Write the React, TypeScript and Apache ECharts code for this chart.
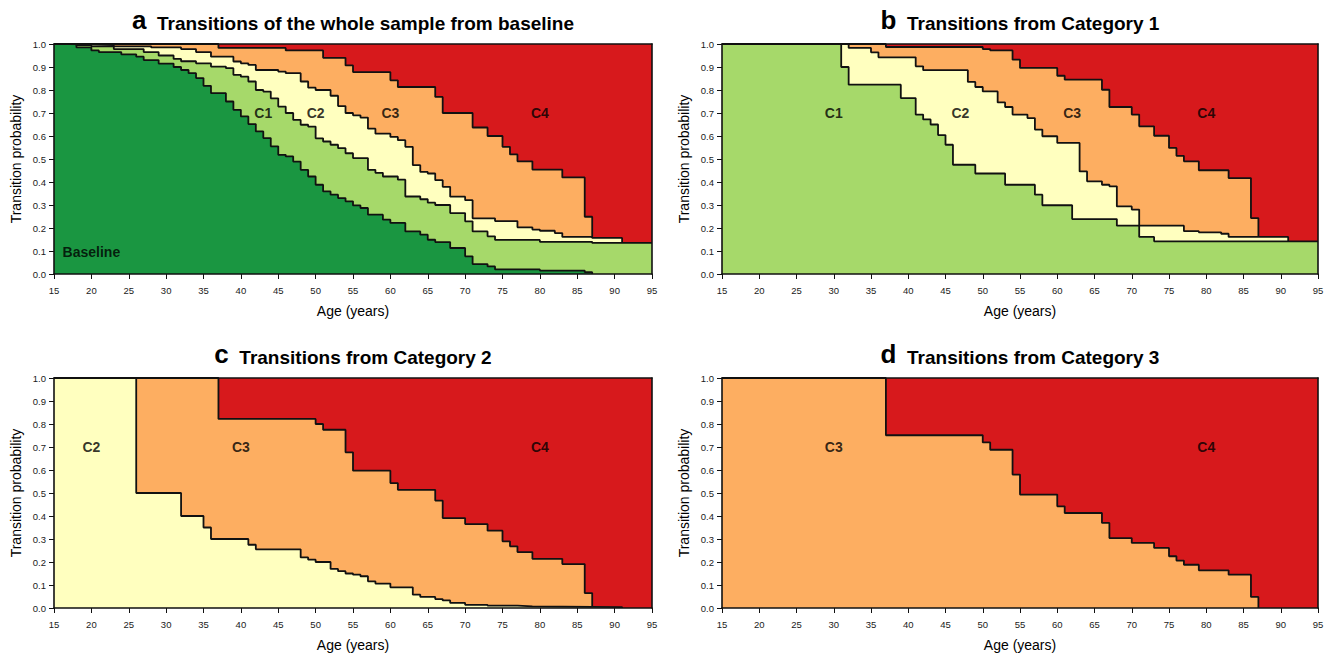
import React, { useEffect, useRef } from "react";
import * as echarts from "echarts";

type Pt = [number, number];

// Age ticks
const AGE_MIN = 15;
const AGE_MAX = 95;

// Panel a: cumulative upper boundaries (value holds from the given age)
const aBaseline: Pt[] = [[15,1],[18,0.985],[20,0.972],[21,0.965],[24,0.955],[26,0.945],[27,0.93],[29,0.915],[31,0.9],[32,0.887],[33,0.873],[34,0.852],[35,0.818],[36,0.786],[38,0.75],[39,0.714],[40,0.685],[41,0.652],[42,0.62],[43,0.591],[44,0.555],[45,0.518],[46,0.511],[47,0.489],[48,0.453],[49,0.424],[50,0.388],[51,0.359],[52,0.345],[53,0.33],[54,0.316],[55,0.298],[56,0.287],[57,0.258],[59,0.236],[60,0.222],[62,0.185],[64,0.171],[65,0.149],[66,0.139],[68,0.113],[70,0.077],[71,0.043],[73,0.033],[74,0.02],[80,0.015],[86,0.008],[87,0]];
const aC1: Pt[] = [[15,1],[18,0.995],[20,0.99],[23,0.978],[27,0.965],[29,0.95],[31,0.935],[32,0.925],[34,0.916],[36,0.902],[38,0.895],[39,0.866],[40,0.858],[41,0.837],[42,0.8],[43,0.793],[44,0.764],[45,0.728],[46,0.7],[47,0.67],[48,0.649],[49,0.641],[50,0.59],[51,0.576],[52,0.562],[53,0.547],[54,0.525],[55,0.504],[57,0.453],[58,0.44],[59,0.424],[61,0.41],[62,0.337],[64,0.325],[65,0.31],[66,0.3],[68,0.265],[70,0.229],[71,0.185],[73,0.164],[74,0.148],[80,0.14],[87,0.135],[95,0.135]];
const aC2: Pt[] = [[15,1],[17,0.998],[20,0.995],[23,0.99],[28,0.985],[32,0.978],[34,0.965],[36,0.945],[39,0.924],[40,0.916],[41,0.909],[42,0.887],[45,0.88],[46,0.873],[48,0.837],[49,0.81],[50,0.8],[52,0.775],[53,0.73],[54,0.7],[55,0.69],[56,0.68],[57,0.632],[58,0.61],[60,0.596],[61,0.582],[62,0.553],[63,0.473],[64,0.444],[65,0.437],[66,0.408],[67,0.379],[68,0.336],[70,0.321],[71,0.242],[74,0.23],[77,0.203],[79,0.193],[80,0.188],[82,0.178],[83,0.161],[87,0.157],[91,0.135]];
const aC3: Pt[] = [[15,1],[37,0.983],[46,0.972],[51,0.94],[54,0.907],[55,0.878],[60,0.842],[61,0.813],[66,0.77],[67,0.7],[71,0.637],[73,0.6],[75,0.553],[76,0.52],[77,0.49],[79,0.454],[83,0.42],[86,0.249],[87,0.157]];

// Panel b
const bC1: Pt[] = [[15,1],[31,0.9],[32,0.823],[39,0.765],[41,0.693],[42,0.672],[43,0.65],[44,0.604],[45,0.562],[46,0.475],[49,0.437],[53,0.388],[57,0.345],[58,0.299],[62,0.239],[68,0.21],[71,0.161],[73,0.142],[95,0.142]];
const bC2: Pt[] = [[15,1],[32,0.983],[35,0.964],[36,0.942],[41,0.903],[42,0.886],[48,0.835],[49,0.813],[50,0.794],[52,0.746],[53,0.726],[54,0.693],[56,0.678],[57,0.628],[58,0.599],[60,0.57],[63,0.446],[64,0.403],[66,0.388],[67,0.381],[68,0.294],[70,0.28],[71,0.21],[77,0.186],[79,0.181],[82,0.175],[83,0.161],[91,0.142]];
const bC3: Pt[] = [[15,1],[37,0.987],[50,0.978],[51,0.972],[54,0.932],[55,0.896],[60,0.862],[61,0.845],[66,0.801],[67,0.726],[70,0.693],[71,0.642],[73,0.601],[75,0.548],[76,0.514],[77,0.49],[79,0.451],[83,0.417],[86,0.243],[87,0.161]];

// Panel c
const cC2: Pt[] = [[15,1],[26,0.5],[32,0.4],[35,0.35],[36,0.3],[41,0.275],[42,0.255],[48,0.22],[49,0.21],[50,0.2],[52,0.17],[53,0.16],[54,0.15],[55,0.145],[56,0.138],[57,0.116],[58,0.106],[60,0.09],[63,0.058],[64,0.048],[66,0.039],[67,0.033],[68,0.022],[70,0.014],[73,0.01],[77,0.007],[79,0.004],[91,0]];
const cC3: Pt[] = [[15,1],[37,0.822],[50,0.8],[51,0.775],[54,0.677],[55,0.597],[60,0.543],[61,0.514],[66,0.467],[67,0.391],[70,0.365],[73,0.336],[75,0.29],[76,0.268],[77,0.243],[79,0.214],[83,0.191],[86,0.065],[87,0.004]];

// Panel d
const dC3: Pt[] = [[15,1],[37,0.751],[50,0.72],[51,0.688],[54,0.58],[55,0.493],[60,0.442],[61,0.413],[66,0.37],[67,0.304],[70,0.283],[73,0.261],[75,0.225],[76,0.206],[77,0.188],[79,0.164],[83,0.145],[86,0.048],[87,0]];

const fullC4: Pt[] = [[15,1],[95,1]];

// Region labels: [name, age, probability]
const aLabels: [string, number, number][] = [["Baseline",20,0.095],["C1",43,0.7],["C2",50,0.7],["C3",60,0.7],["C4",80,0.7]];
const bLabels: [string, number, number][] = [["C1",30,0.7],["C2",47,0.7],["C3",62,0.7],["C4",80,0.7]];
const cLabels: [string, number, number][] = [["C2",20,0.7],["C3",40,0.7],["C4",80,0.7]];
const dLabels: [string, number, number][] = [["C3",30,0.7],["C4",80,0.7]];

const COLORS: Record<string, string> = {
  C4: "#D7191C",
  C3: "#FDAE61",
  C2: "#FFFFBF",
  C1: "#A6D96A",
  Baseline: "#1A9641",
};

const panels = [
  { letter: "a", title: "Transitions of the whole sample from baseline", layers: [["C3", aC3], ["C2", aC2], ["C1", aC1], ["Baseline", aBaseline]] as [string, Pt[]][], labels: aLabels },
  { letter: "b", title: "Transitions from Category 1", layers: [["C3", bC3], ["C2", bC2], ["C1", bC1]] as [string, Pt[]][], labels: bLabels },
  { letter: "c", title: "Transitions from Category 2", layers: [["C3", cC3], ["C2", cC2]] as [string, Pt[]][], labels: cLabels },
  { letter: "d", title: "Transitions from Category 3", layers: [["C3", dC3]] as [string, Pt[]][], labels: dLabels },
];

const GRIDS = [
  { left: 54, top: 44, width: 598, height: 230 },
  { left: 722, top: 44, width: 596, height: 230 },
  { left: 54, top: 378, width: 598, height: 230 },
  { left: 722, top: 378, width: 596, height: 230 },
];

const FONT = "'Liberation Sans', Arial, sans-serif";
const AX = "#111";

export default function App() {
  const ref = useRef<HTMLDivElement>(null);
  useEffect(() => {
    if (!ref.current) return;
    const chart = echarts.init(ref.current, undefined, { renderer: "svg" });
    const xAxes: any[] = [];
    const yAxes: any[] = [];
    const series: any[] = [];
    const titles: any[] = [];

    GRIDS.forEach((g, i) => {
      xAxes.push({
        gridIndex: i, type: "value", min: AGE_MIN, max: AGE_MAX, interval: 5, z: 5,
        axisLine: { onZero: false, lineStyle: { color: AX, width: 1.6 } },
        axisTick: { length: 5, lineStyle: { color: AX, width: 1 } },
        axisLabel: { fontSize: 9.5, color: "#1a1a1a", margin: 11, fontFamily: FONT },
        splitLine: { show: false },
        name: "Age (years)", nameLocation: "middle", nameGap: 30,
        nameTextStyle: { fontSize: 14, color: "#000", fontFamily: FONT },
      });
      yAxes.push({
        gridIndex: i, type: "value", min: 0, max: 1, interval: 0.1, z: 5,
        axisLine: { onZero: false, lineStyle: { color: AX, width: 1.6 } },
        axisTick: { length: 5, lineStyle: { color: AX, width: 1 } },
        axisLabel: { fontSize: 9.5, color: "#1a1a1a", margin: 8, fontFamily: FONT, formatter: (v: number) => v.toFixed(1) },
        splitLine: { show: false },
        name: "Transition probability", nameLocation: "middle", nameGap: 31, nameRotate: 90,
        nameTextStyle: { fontSize: 14, color: "#000", fontFamily: FONT },
      });
    });
    GRIDS.forEach((g, i) => {
      xAxes.push({
        gridIndex: i, type: "value", min: AGE_MIN, max: AGE_MAX, position: "top", z: 5,
        axisLine: { onZero: false, lineStyle: { color: AX, width: 1.6 } },
        axisTick: { show: false }, axisLabel: { show: false }, splitLine: { show: false },
      });
      yAxes.push({
        gridIndex: i, type: "value", min: 0, max: 1, position: "right", z: 5,
        axisLine: { onZero: false, lineStyle: { color: AX, width: 1.6 } },
        axisTick: { show: false }, axisLabel: { show: false }, splitLine: { show: false },
      });
    });

    panels.forEach((p, i) => {
      const g = GRIDS[i];
      titles.push({
        text: `{a|${p.letter}}  {t|${p.title}}`,
        left: g.left + g.width / 2,
        top: g.top - 37,
        textAlign: "center",
        padding: 0,
        textStyle: {
          fontSize: 19, fontWeight: "bold", color: "#000", fontFamily: FONT,
          rich: {
            a: { fontSize: 26, fontWeight: "bold", color: "#000", fontFamily: FONT, lineHeight: 26, verticalAlign: "bottom" },
            t: { fontSize: 19, fontWeight: "bold", color: "#000", fontFamily: FONT, lineHeight: 19, verticalAlign: "bottom" },
          },
        },
      });
      series.push({
        type: "line", xAxisIndex: i, yAxisIndex: i, step: "end", symbol: "none", silent: true,
        data: fullC4, lineStyle: { width: 0 }, areaStyle: { color: COLORS.C4, opacity: 1, origin: "start" }, z: 2,
      });
      p.layers.forEach(([name, data]) => {
        series.push({
          type: "line", name, xAxisIndex: i, yAxisIndex: i, step: "end", symbol: "none", silent: true,
          data, lineStyle: { color: "#111", width: 1.8 },
          areaStyle: { color: COLORS[name], opacity: 1, origin: "start" }, z: 2,
        });
      });
      series.push({
        type: "scatter", xAxisIndex: i, yAxisIndex: i, symbolSize: 0, silent: true, z: 10,
        data: p.labels.map(([n, x, y]) => ({ name: n, value: [x, y] })),
        label: { show: true, position: "inside", formatter: (d: any) => d.name, fontSize: 14, fontWeight: "bold", color: "#000", fontFamily: FONT },
      });
    });

    chart.setOption({
      animation: false,
      backgroundColor: "#ffffff",
      textStyle: { fontFamily: FONT },
      title: titles,
      grid: GRIDS.map((g) => ({ ...g, containLabel: false })),
      xAxis: xAxes,
      yAxis: yAxes,
      series,
    });
    return () => chart.dispose();
  }, []);
  return (
    <div
      ref={ref}
      style={{ position: "fixed", left: 0, top: 0, width: 1333, height: 653, background: "#fff" }}
    />
  );
}
